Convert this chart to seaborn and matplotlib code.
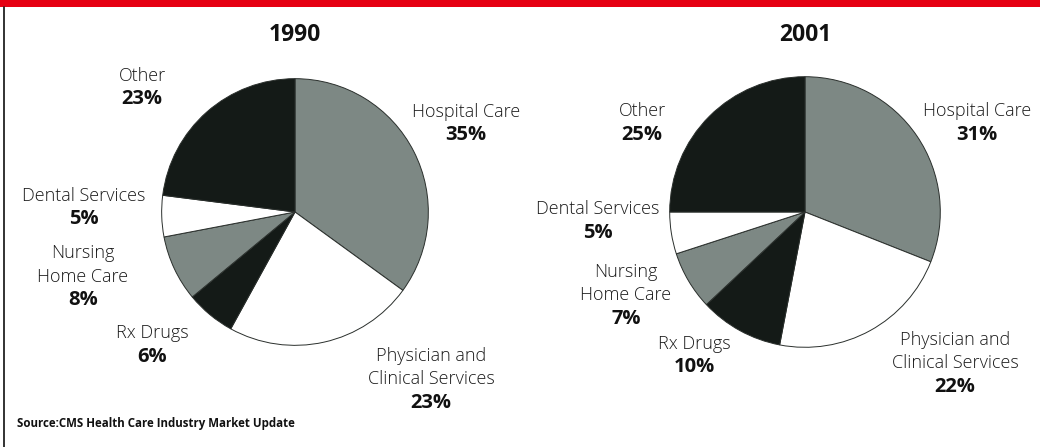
import matplotlib
matplotlib.use("Agg")
import matplotlib.pyplot as plt
import seaborn as sns
from matplotlib.patches import Rectangle
from matplotlib.lines import Line2D

# ---- data ----
categories = ["Hospital Care", "Physician and\nClinical Services", "Rx Drugs",
              "Nursing\nHome Care", "Dental Services", "Other"]
values_1990 = [35, 23, 6, 8, 5, 23]
values_2001 = [31, 22, 10, 7, 5, 25]
years = ["1990", "2001"]
source = "Source:CMS Health Care Industry Market Update"

sns.set_theme(style="white")
plt.rcParams["font.family"] = ["Open Sans", "DejaVu Sans"]

W, H = 1040, 447
fig = plt.figure(figsize=(W / 100, H / 100), dpi=100)
fig.patch.set_facecolor("white")

GRAY = "#7d8884"
BLACK = "#141a17"
WHITE = "#ffffff"
slice_colors = [GRAY, WHITE, BLACK, GRAY, WHITE, BLACK]

def px(x, y):
    return x / W, 1 - y / H

# frame decorations
fig.add_artist(Rectangle((0, 1 - 7 / H), 1, 7 / H, transform=fig.transFigure,
                         facecolor="#e60012", edgecolor="none"))
fig.add_artist(Line2D([3.5 / W, 3.5 / W], [0, 1 - 7 / H], transform=fig.transFigure,
                      color="#222222", lw=1.3))

def draw_pie(cx, cy, r, vals):
    ax = fig.add_axes([(cx - r) / W, (H - cy - r) / H, 2 * r / W, 2 * r / H])
    ax.pie(vals, colors=slice_colors, startangle=90, counterclock=False,
           wedgeprops=dict(edgecolor="#2a2f2c", linewidth=0.7))
    ax.set_xlim(-1.02, 1.02)
    ax.set_ylim(-1.02, 1.02)
    ax.axis("off")

draw_pie(295, 212, 136, values_1990)
draw_pie(805, 212, 138, values_2001)

# titles
for x, t in [(295, years[0]), (805, years[1])]:
    fig.text(*px(x, 35), t, ha="center", va="center", fontsize=16.5,
             fontweight="bold", color="#111111")

LFS = 13
PFS = 14.5
def label(x, y_top, name, val):
    lines = name.split("\n")
    y = y_top
    for ln in lines:
        fig.text(*px(x, y), ln, ha="center", va="center", fontsize=LFS,
                 fontweight=300, color="#1a1a1a")
        y += 23.5
    fig.text(*px(x, y), f"{val}%", ha="center", va="center", fontsize=PFS,
             fontweight="bold", color="#111111")

pos_1990 = [(466, 112), (431, 356), (152, 333), (83, 253), (84, 196), (142, 76)]
pos_2001 = [(977, 111), (955, 340), (694, 344), (626, 272), (598, 209), (642, 111)]

for (x, y), name, v in zip(pos_1990, categories, values_1990):
    label(x, y, name, v)
for (x, y), name, v in zip(pos_2001, categories, values_2001):
    label(x, y, name, v)

fig.text(*px(17, 424), source, ha="left", va="center", fontsize=8.3,
         fontweight="bold", color="#111111")

fig.savefig("out.png", dpi=100, facecolor="white")
